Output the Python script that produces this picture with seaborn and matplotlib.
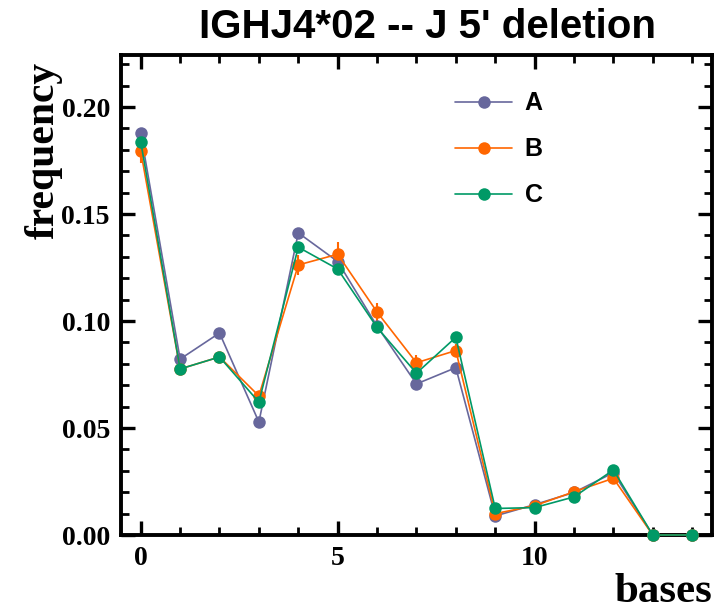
import matplotlib
matplotlib.use("Agg")
import matplotlib.pyplot as plt
import matplotlib.ticker as mticker
import numpy as np
import pandas as pd
import seaborn as sns

# ----------------------------------------------------------------------------------------------------------------------
# Data
bases = list(range(15))
freq_a = [0.1877, 0.0822, 0.0944, 0.0528, 0.1412, 0.1278, 0.0976, 0.0706, 0.0782,
          0.0089, 0.0142, 0.0199, 0.0291, 0.0, 0.0]
freq_b = [0.1794, 0.0776, 0.0832, 0.0650, 0.1262, 0.1312, 0.1042, 0.0805, 0.0862,
          0.0100, 0.0137, 0.0202, 0.0265, 0.0, 0.0]
freq_c = [0.1838, 0.0776, 0.0832, 0.0621, 0.1345, 0.1243, 0.0970, 0.0756, 0.0924,
          0.0124, 0.0128, 0.0178, 0.0304, 0.0, 0.0]
err_b = [0.0055, 0.0015, 0.0020, 0.0015, 0.0047, 0.0055, 0.0040, 0.0035, 0.0030,
         0.0010, 0.0010, 0.0010, 0.0010, 0.0, 0.0]
samples = ['A', 'B', 'C']
colors = ['#67679c', '#ff6600', '#009966']

df = pd.DataFrame({
    'bases': bases * 3,
    'frequency': freq_a + freq_b + freq_c,
    'sample': [s for s in samples for _ in bases],
})

# ----------------------------------------------------------------------------------------------------------------------
# Plot
sns.set_theme(style='ticks')
plt.rcParams['font.family'] = ['Liberation Serif', 'DejaVu Serif']
plt.rcParams['text.color'] = 'black'
plt.rcParams['axes.labelcolor'] = 'black'

fig = plt.figure(figsize=(7.14, 6.12), dpi=100)
ax = fig.add_axes([0.1695, 0.1258, 0.8275, 0.7843])

sns.lineplot(data=df, x='bases', y='frequency', hue='sample', palette=colors,
             marker='o', markersize=9, markeredgewidth=0, linewidth=1.2, ax=ax)
ax.errorbar(bases, freq_b, yerr=err_b, fmt='none', ecolor=colors[1], elinewidth=1.5, capsize=0, zorder=1.5)
# points sitting on zero are drawn whole, over the bottom spine
for line in ax.lines:
    line.set_clip_on(False)
    line.set_zorder(3)

ax.set_xlim(-0.5, 14.5)
ax.set_ylim(0, 0.2243)
ax.xaxis.set_major_locator(mticker.MultipleLocator(5))
ax.xaxis.set_minor_locator(mticker.MultipleLocator(1))
ax.yaxis.set_major_locator(mticker.MultipleLocator(0.05))
ax.yaxis.set_minor_locator(mticker.MultipleLocator(0.01))
ax.yaxis.set_major_formatter(mticker.FormatStrFormatter('%.2f'))

ax.tick_params(which='both', direction='in', top=True, right=True, colors='black')
ax.tick_params(which='major', length=10, width=2.4, labelsize=20, pad=8)
ax.tick_params(which='minor', length=5.5, width=2.0)
for lab in ax.get_xticklabels() + ax.get_yticklabels():
    lab.set_fontweight('bold')
for sp in ax.spines.values():
    sp.set_linewidth(2.8)
    sp.set_color('black')

ax.set_xlabel('bases', loc='right', fontsize=31, fontweight='bold')
ax.xaxis.set_label_coords(1.0, -0.080)
ax.set_ylabel('frequency', loc='top', fontsize=30, fontweight='bold')
ax.yaxis.set_label_coords(-0.098, 0.985)
ax.set_title("IGHJ4*02 -- J 5' deletion", fontsize=29, fontweight='bold', color='black',
             family=['Liberation Sans'], x=0.519, pad=12)

leg = ax.legend(loc='upper left', bbox_to_anchor=(0.548, 0.945), borderaxespad=0, frameon=False,
                handlelength=2.3, labelspacing=0.88, handletextpad=0.5,
                prop={'family': 'Liberation Sans', 'weight': 'bold', 'size': 18})

fig.savefig('out.png', dpi=100)
